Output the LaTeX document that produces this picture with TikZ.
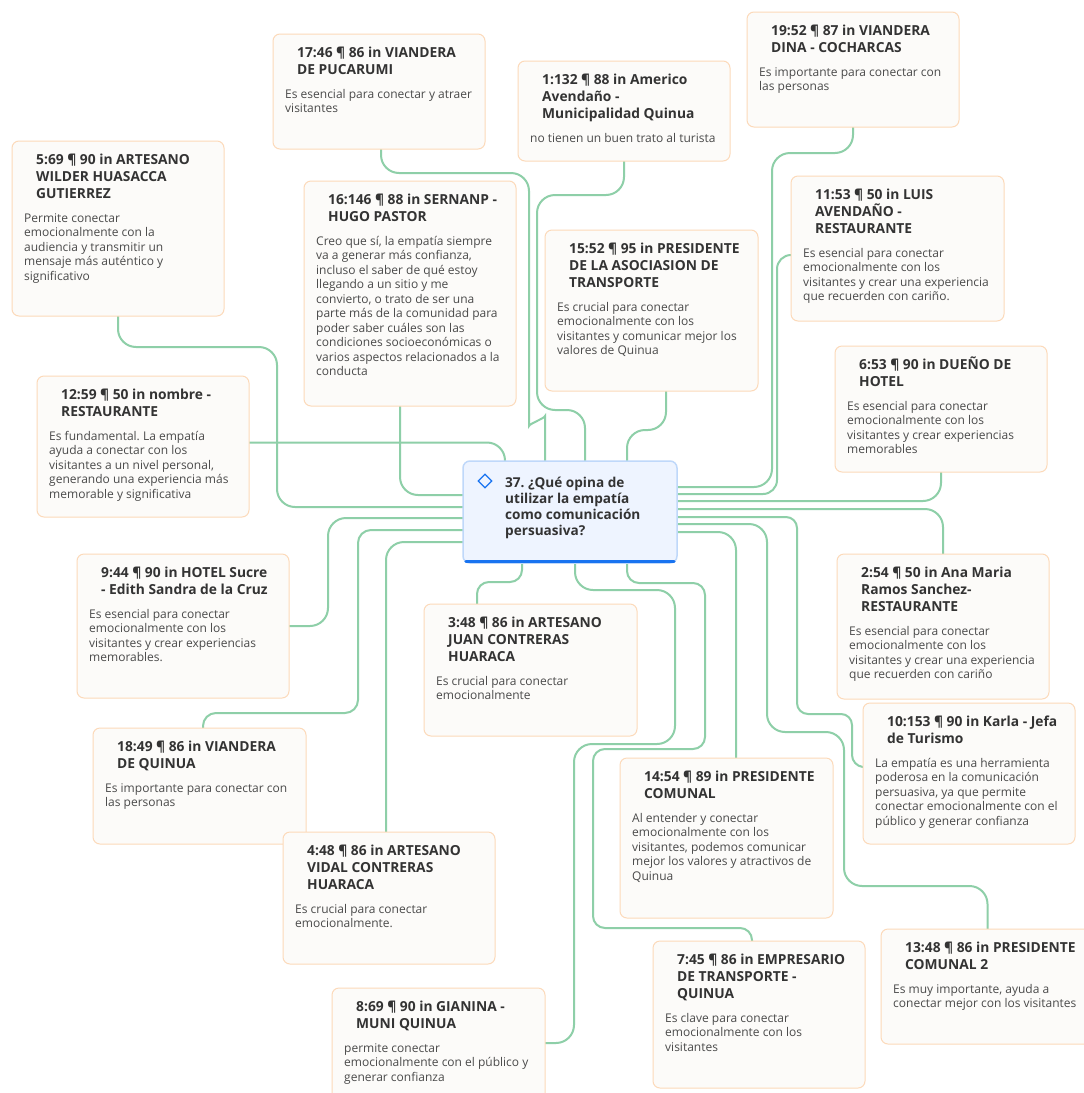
\documentclass[tikz,border=0pt]{standalone}
\usepackage{fontspec}
\setmainfont{Open Sans}
\frenchspacing
\usetikzlibrary{shapes.geometric,calc}
\definecolor{conncol}{HTML}{8ECFA8}
\definecolor{cardborder}{HTML}{FCDABA}
\definecolor{cardfill}{HTML}{FCFBF9}
\definecolor{cenfill}{HTML}{EEF4FF}
\definecolor{cenborder}{HTML}{BFD8FA}
\definecolor{barblue}{HTML}{1873F0}
\definecolor{ttlcol}{HTML}{333333}
\definecolor{bdycol}{HTML}{4A4A4A}
\newcommand\cardttlfont{\fontsize{13.8}{17}\selectfont\bfseries}
\newcommand\cardbdyfont{\fontsize{12}{14.5}\selectfont}
\newcommand\cenqfont{\fontsize{13.6}{16.3}\selectfont\bfseries}
\pgfdeclarelayer{bg}
\pgfsetlayers{bg,main}
\tikzset{
  cardbox/.style={draw=cardborder,fill=cardfill,rounded corners=7pt,line width=1pt,inner sep=0pt,outer sep=0pt},
  cardttl/.style={inner sep=0pt,text=ttlcol,anchor=base west},
  cardbdy/.style={inner sep=0pt,text=bdycol,anchor=base west},
  conn/.style={draw=conncol,line width=2pt,rounded corners=18pt},
  cenbox/.style={draw=cenborder,fill=cenfill,rounded corners=7pt,line width=1.5pt,minimum width=214pt,minimum height=102pt,inner sep=0pt,outer sep=0pt},
}
% #1 name #2 x #3 y #4 w #5 h #6 title lines count #7 title #8 body
\newcommand\mkcard[8]{%
  \node[cardbox,minimum width=#4pt,minimum height=#5pt,anchor=north west] (#1) at (#2,#3) {};
  \node[cardttl] (#1t) at ({#2+24},{#3+23.5}) {\parbox[t]{260pt}{\raggedright\cardttlfont #7}};
  \node[cardbdy] (#1b) at ({#2+12},{#3+47+17*(#6-1)}) {\parbox[t]{260pt}{\raggedright\cardbdyfont #8}};
}
\begin{document}
\begin{tikzpicture}[x=1pt,y=-1pt]
\useasboundingbox (0,0) rectangle (1084,1093);
\begin{pgfonlayer}{bg}
\fill[white] (0,0) rectangle (1084,1093);
\end{pgfonlayer}

% centre
\node[cenbox] (cen) at (570,512) {};
\node[diamond,draw=barblue,line width=1.2pt,minimum width=14pt,minimum height=14pt,inner sep=0pt] (icon) at (485,481) {};
\node[inner sep=0pt,anchor=base west,text=ttlcol] (q) at (505,487) {\parbox[t]{170pt}{\raggedright\cenqfont 37. ¿Qué opina de\\utilizar la empatía\\como comunicación\\persuasiva?}};
\draw[line width=3.2pt,barblue,line cap=round] ([xshift=3pt,yshift=1.8pt]cen.south west) -- ([xshift=-3pt,yshift=1.8pt]cen.south east);

% cards
\mkcard{b1746}{273}{34}{212}{115}{2}{17:46 ¶ 86 in VIANDERA\\DE PUCARUMI}{Es esencial para conectar y atraer\\visitantes}
\mkcard{b1132}{518}{61}{212}{100}{3}{1:132 ¶ 88 in Americo\\Avendaño -\\Municipalidad Quinua}{no tienen un buen trato al turista}
\mkcard{b1952}{747}{12}{212}{115}{2}{19:52 ¶ 87 in VIANDERA\\DINA - COCHARCAS}{Es importante para conectar con\\las personas}
\mkcard{b569}{12}{141}{212}{175}{3}{5:69 ¶ 90 in ARTESANO\\WILDER HUASACCA\\GUTIERREZ}{Permite conectar\\emocionalmente con la\\audiencia y transmitir un\\mensaje más auténtico y\\significativo}
\mkcard{b16146}{304}{181}{212}{225}{2}{16:146 ¶ 88 in SERNANP -\\HUGO PASTOR}{Creo que sí, la empatía siempre\\va a generar más confianza,\\incluso el saber de qué estoy\\llegando a un sitio y me\\convierto, o trato de ser una\\parte más de la comunidad para\\poder saber cuáles son las\\condiciones socioeconómicas o\\varios aspectos relacionados a la\\conducta}
\mkcard{b1552}{545}{230}{213}{161}{3}{15:52 ¶ 95 in PRESIDENTE\\DE LA ASOCIASION DE\\TRANSPORTE}{Es crucial para conectar\\emocionalmente con los\\visitantes y comunicar mejor los\\valores de Quinua}
\mkcard{b1153}{791}{176}{213}{145}{3}{11:53 ¶ 50 in LUIS\\AVENDAÑO -\\RESTAURANTE}{Es esencial para conectar\\emocionalmente con los\\visitantes y crear una experiencia\\que recuerden con cariño.}
\mkcard{b653}{835}{346}{212}{126}{2}{6:53 ¶ 90 in DUEÑO DE\\HOTEL}{Es esencial para conectar\\emocionalmente con los\\visitantes y crear experiencias\\memorables}
\mkcard{b1259}{37}{376}{212}{141}{2}{12:59 ¶ 50 in nombre -\\RESTAURANTE}{Es fundamental. La empatía\\ayuda a conectar con los\\visitantes a un nivel personal,\\generando una experiencia más\\memorable y significativa}
\mkcard{b944}{77}{554}{212}{144}{2}{9:44 ¶ 90 in HOTEL Sucre\\- Edith Sandra de la Cruz}{Es esencial para conectar\\emocionalmente con los\\visitantes y crear experiencias\\memorables.}
\mkcard{b1849}{93}{728}{213}{116}{2}{18:49 ¶ 86 in VIANDERA\\DE QUINUA}{Es importante para conectar con\\las personas}
\mkcard{b348}{424}{604}{213}{132}{3}{3:48 ¶ 86 in ARTESANO\\JUAN CONTRERAS\\HUARACA}{Es crucial para conectar\\emocionalmente}
\mkcard{b448}{283}{832}{212}{132}{3}{4:48 ¶ 86 in ARTESANO\\VIDAL CONTRERAS\\HUARACA}{Es crucial para conectar\\emocionalmente.}
\mkcard{b1454}{620}{758}{213}{160}{2}{14:54 ¶ 89 in PRESIDENTE\\COMUNAL}{Al entender y conectar\\emocionalmente con los\\visitantes, podemos comunicar\\mejor los valores y atractivos de\\Quinua}
\mkcard{b254}{837}{554}{212}{145}{3}{2:54 ¶ 50 in Ana Maria\\Ramos Sanchez-\\RESTAURANTE}{Es esencial para conectar\\emocionalmente con los\\visitantes y crear una experiencia\\que recuerden con cariño}
\mkcard{b10153}{863}{703}{212}{141}{2}{10:153 ¶ 90 in Karla - Jefa\\de Turismo}{La empatía es una herramienta\\poderosa en la comunicación\\persuasiva, ya que permite\\conectar emocionalmente con el\\público y generar confianza}
\mkcard{b869}{332}{988}{213}{115}{2}{8:69 ¶ 90 in GIANINA -\\MUNI QUINUA}{permite conectar\\emocionalmente con el público y\\generar confianza}
\mkcard{b745}{653}{941}{212}{147}{3}{7:45 ¶ 86 in EMPRESARIO\\DE TRANSPORTE -\\QUINUA}{Es clave para conectar\\emocionalmente con los\\visitantes}
\mkcard{b1348}{881}{929}{213}{115}{2}{13:48 ¶ 86 in PRESIDENTE\\COMUNAL 2}{Es muy importante, ayuda a\\conectar mejor con los visitantes}

% connectors
\begin{pgfonlayer}{bg}
\draw[conn] ([yshift=4pt]b1259.east) -| ([xshift=-65pt]cen.north);
\draw[conn] ([xshift=2pt]b1746.south) -- (381,173) -- (529,173) -- (529,408) .. controls (529,424) and (545,418) .. (545,434) -- ([xshift=-25pt]cen.north);
\draw[conn] (b1132.south) -- (624,195) -- (537,195) -- (537,410) -- (585,410) -- ([xshift=15pt]cen.north);
\draw[conn] ([xshift=14.5pt]b1552.south) -- (666,430) -- (627,430) -- ([xshift=57pt]cen.north);
\draw[conn] ([xshift=-10pt]b16146.south) |- ([yshift=17pt]cen.west);
\draw[conn] (b569.south) -- (118,347) -- (277,347) -- (277,507) -- ([yshift=5pt]cen.west);
\draw[conn] (b944.east) -- (328,626) -- (328,518) -- ([yshift=-6pt]cen.west);
\draw[conn,rounded corners=13pt] ([xshift=3.5pt]b1849.north) -- (203,713) -- (358,713) -- (358,530) -- ([yshift=-18pt]cen.west);
\draw[conn] ([xshift=-3pt]b448.north) |- ([yshift=-30pt]cen.west);
\draw[conn] ([yshift=25pt]cen.east) -- (772,487) -- (772,153) -- (853,153) -- (b1952.south);
\draw[conn,rounded corners=14pt] ([yshift=18pt]cen.east) -- (777,494) -- (777,255) -- ([yshift=-6.5pt]b1153.west);
\draw[conn] ([yshift=11pt]cen.east) -| (b653.south);
\draw[conn] ([yshift=3pt]cen.east) -| (b254.north);
\draw[conn,rounded corners=11pt] ([yshift=-5pt]cen.east) -- (797,517) -- (797,714) -- (852,714) -- (852,766) -- ([yshift=6.5pt]b10153.west);
\draw[conn] ([yshift=-12pt]cen.east) -- (767,524) -- (767,732) -- (844,732) -- (844,886) -- (987.5,886) -- (b1348.north);
\draw[conn] ([yshift=-20pt]cen.east) -| ([xshift=9.5pt]b1454.north);
\draw[conn,rounded corners=12pt] ([xshift=-48pt]cen.south) -- (522,582) -- (477,582) -- ([xshift=-53.5pt]b348.north);
\draw[conn] ([xshift=5pt]cen.south) -- (575,590) -- (675,590) -- (675,744) -- (574,744) -- (574,1043) -- ([yshift=2.5pt]b869.east);
\draw[conn,rounded corners=12pt] ([xshift=57pt]cen.south) -- (627,583) -- (705,583) -- (705,749) -- (593,749) -- (593,928) -- (752,928) -- ([xshift=-7pt]b745.north);
\end{pgfonlayer}
\end{tikzpicture}
\end{document}
